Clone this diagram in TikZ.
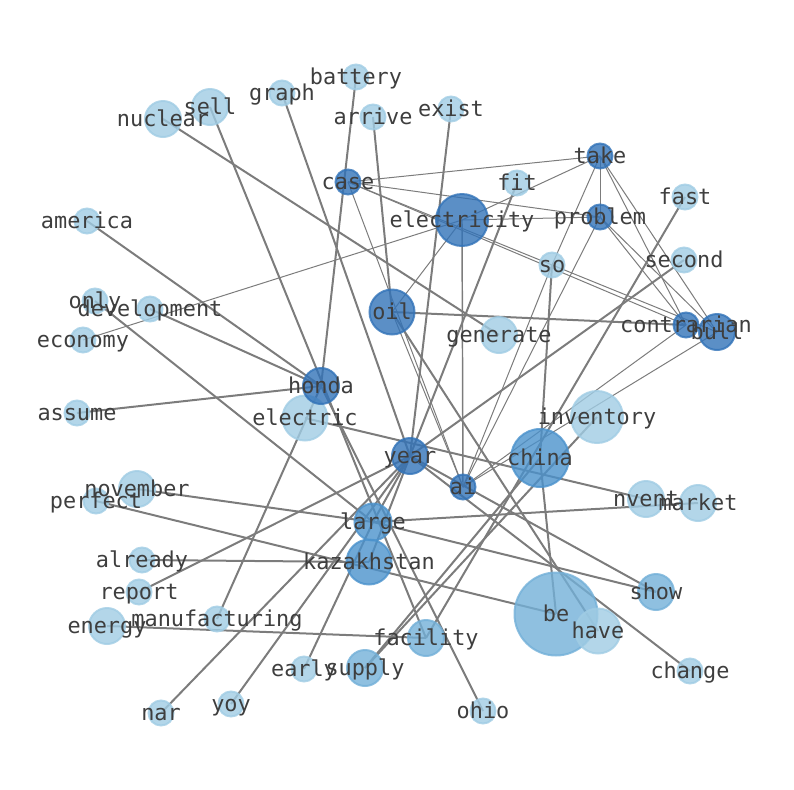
\documentclass[tikz,border=0pt]{standalone}
\usepackage{fontspec}
\setmonofont{DejaVu Sans Mono}
\definecolor{cL}{RGB}{160,204,228}
\definecolor{cM}{RGB}{115,176,216}
\definecolor{cC}{RGB}{75,146,204}
\definecolor{cD}{RGB}{50,115,184}
\definecolor{edgec}{RGB}{124,124,124}
\definecolor{labelc}{RGB}{62,62,62}
\begin{document}
\begin{tikzpicture}[x=0.75pt,y=-0.75pt,
  tk/.style={draw=edgec, line width=1.5pt},
  tm/.style={draw=edgec, line width=1.1pt},
  tn/.style={draw=edgec, line width=0.75pt},
  vtx/.style 2 args={circle, inner sep=0pt, minimum size={(#2)*1.5pt}, fill=#1, draw=#1, fill opacity=0.8, draw opacity=0.8, line width=1.5pt},
  lbl/.style={font=\ttfamily\fontsize{16.4}{20}\selectfont, text=labelc, text height=0.76em, text depth=0.24em, inner sep=0pt, anchor=center, yshift=-2.8pt}
]
\useasboundingbox (0,0) rectangle (794,790);
% centres
\coordinate (battery) at (356,77);
\coordinate (graph) at (282,93);
\coordinate (sell) at (210,107);
\coordinate (nuclear) at (163,119);
\coordinate (arrive) at (373,117);
\coordinate (exist) at (451,109);
\coordinate (case) at (348,182);
\coordinate (fit) at (517,183);
\coordinate (take) at (600,156);
\coordinate (fast) at (685,197);
\coordinate (electricity) at (462,220);
\coordinate (problem) at (600,217);
\coordinate (america) at (87,221);
\coordinate (second) at (684,260);
\coordinate (so) at (552,265);
\coordinate (only) at (95,301);
\coordinate (development) at (150,309);
\coordinate (economy) at (83,340);
\coordinate (oil) at (392,312);
\coordinate (generate) at (499,335);
\coordinate (contrarian) at (686,325);
\coordinate (bull) at (717,332);
\coordinate (honda) at (321,386);
\coordinate (assume) at (77,413);
\coordinate (electric) at (305,418);
\coordinate (inventory) at (597,417);
\coordinate (year) at (410,456);
\coordinate (china) at (540,458);
\coordinate (ai) at (463,487);
\coordinate (november) at (137,489);
\coordinate (perfect) at (96,501);
\coordinate (nvent) at (646,499);
\coordinate (market) at (698,503);
\coordinate (large) at (373,522);
\coordinate (already) at (142,560);
\coordinate (kazakhstan) at (369,562);
\coordinate (report) at (139,592);
\coordinate (manufacturing) at (217,619);
\coordinate (energy) at (107,626);
\coordinate (facility) at (426,638);
\coordinate (be) at (556,614);
\coordinate (have) at (598,631);
\coordinate (show) at (656,592);
\coordinate (change) at (690,671);
\coordinate (early) at (304,669);
\coordinate (supply) at (365,668);
\coordinate (nar) at (161,713);
\coordinate (yoy) at (231,704);
\coordinate (ohio) at (483,711);
% thick edges
\draw[tk] (battery) -- (honda);
\draw[tk] (graph) -- (year);
\draw[tk] (sell) -- (facility);
\draw[tk] (nuclear) -- (generate);
\draw[tk] (arrive) -- (oil);
\draw[tk] (exist) -- (year);
\draw[tk] (fit) -- (year);
\draw[tk] (fast) -- (facility);
\draw[tk] (second) -- (year);
\draw[tk] (america) -- (honda);
\draw[tk] (only) -- (large);
\draw[tk] (development) -- (honda);
\draw[tk] (assume) -- (honda);
\draw[tk] (manufacturing) -- (honda);
\draw[tk] (november) -- (large);
\draw[tk] (perfect) -- (be);
\draw[tk] (already) -- (kazakhstan);
\draw[tk] (report) -- (year);
\draw[tk] (energy) -- (facility);
\draw[tk] (nar) -- (year);
\draw[tk] (yoy) -- (year);
\draw[tk] (early) -- (large);
\draw[tk] (supply) -- (china);
\draw[tk] (supply) -- (inventory);
\draw[tk] (honda) -- (ohio);
\draw[tk] (year) -- (large);
\draw[tk] (year) -- (kazakhstan);
\draw[tk] (year) -- (show);
\draw[tk] (year) -- (change);
\draw[tk] (electric) -- (nvent);
\draw[tk] (large) -- (market);
\draw[tk] (large) -- (show);
\draw[tk] (so) -- (china);
\draw[tk] (china) -- (be);
\draw[tk] (oil) -- (contrarian);
\draw[tk] (oil) -- (have);
% medium / thin edges
\draw[tm] (electricity) -- (ai);
\draw[tn] (case) -- (take);
\draw[tn] (case) -- (problem);
\draw[tn] (case) -- (contrarian);
\draw[tn] (case) -- (bull);
\draw[tn] (case) -- (ai);
\draw[tn] (oil) -- (ai);
\draw[tn] (electricity) -- (take);
\draw[tn] (electricity) -- (problem);
\draw[tn] (electricity) -- (oil);
\draw[tn] (economy) -- (electricity);
\draw[tn] (take) -- (problem);
\draw[tn] (take) -- (so);
\draw[tn] (so) -- (ai);
\draw[tn] (take) -- (contrarian);
\draw[tn] (take) -- (bull);
\draw[tn] (problem) -- (contrarian);
\draw[tn] (problem) -- (bull);
\draw[tn] (problem) -- (ai);
\draw[tn] (ai) -- (contrarian);
\draw[tn] (ai) -- (bull);
% vertex discs
\node[vtx={cL}{12.5}] (v-battery) at (battery) {};
\node[vtx={cL}{12.5}] (v-graph) at (graph) {};
\node[vtx={cL}{18}] (v-sell) at (sell) {};
\node[vtx={cL}{18}] (v-nuclear) at (nuclear) {};
\node[vtx={cL}{12.5}] (v-arrive) at (arrive) {};
\node[vtx={cL}{12.5}] (v-exist) at (exist) {};
\node[vtx={cD}{12.5}] (v-case) at (case) {};
\node[vtx={cL}{12.5}] (v-fit) at (fit) {};
\node[vtx={cD}{12.5}] (v-take) at (take) {};
\node[vtx={cL}{12.5}] (v-fast) at (fast) {};
\node[vtx={cD}{26}] (v-electricity) at (electricity) {};
\node[vtx={cD}{12.5}] (v-problem) at (problem) {};
\node[vtx={cL}{12.5}] (v-america) at (america) {};
\node[vtx={cL}{12.5}] (v-second) at (second) {};
\node[vtx={cL}{12.5}] (v-so) at (so) {};
\node[vtx={cL}{12.5}] (v-only) at (only) {};
\node[vtx={cL}{12.5}] (v-development) at (development) {};
\node[vtx={cL}{12.5}] (v-economy) at (economy) {};
\node[vtx={cD}{22.5}] (v-oil) at (oil) {};
\node[vtx={cL}{18}] (v-generate) at (generate) {};
\node[vtx={cD}{12.5}] (v-contrarian) at (contrarian) {};
\node[vtx={cD}{18}] (v-bull) at (bull) {};
\node[vtx={cL}{12.5}] (v-assume) at (assume) {};
\node[vtx={cL}{22.5}] (v-electric) at (electric) {};
\node[vtx={cD}{18}] (v-honda) at (honda) {};
\node[vtx={cL}{26}] (v-inventory) at (inventory) {};
\node[vtx={cD}{18}] (v-year) at (year) {};
\node[vtx={cC}{29}] (v-china) at (china) {};
\node[vtx={cD}{12.5}] (v-ai) at (ai) {};
\node[vtx={cL}{18}] (v-november) at (november) {};
\node[vtx={cL}{12.5}] (v-perfect) at (perfect) {};
\node[vtx={cL}{18}] (v-nvent) at (nvent) {};
\node[vtx={cL}{18}] (v-market) at (market) {};
\node[vtx={cC}{22.5}] (v-kazakhstan) at (kazakhstan) {};
\node[vtx={cC}{18.5}] (v-large) at (large) {};
\node[vtx={cL}{12.5}] (v-already) at (already) {};
\node[vtx={cL}{12.5}] (v-report) at (report) {};
\node[vtx={cL}{12.5}] (v-manufacturing) at (manufacturing) {};
\node[vtx={cL}{18}] (v-energy) at (energy) {};
\node[vtx={cM}{18}] (v-facility) at (facility) {};
\node[vtx={cM}{41.5}] (v-be) at (be) {};
\node[vtx={cL}{22.5}] (v-have) at (have) {};
\node[vtx={cM}{18}] (v-show) at (show) {};
\node[vtx={cL}{12.5}] (v-change) at (change) {};
\node[vtx={cL}{12.5}] (v-early) at (early) {};
\node[vtx={cM}{18}] (v-supply) at (supply) {};
\node[vtx={cL}{12.5}] (v-nar) at (nar) {};
\node[vtx={cL}{12.5}] (v-yoy) at (yoy) {};
\node[vtx={cL}{12.5}] (v-ohio) at (ohio) {};
% labels
\node[lbl] (t-battery) at (battery) {battery};
\node[lbl] (t-graph) at (graph) {graph};
\node[lbl] (t-sell) at (sell) {sell};
\node[lbl] (t-nuclear) at (nuclear) {nuclear};
\node[lbl] (t-arrive) at (arrive) {arrive};
\node[lbl] (t-exist) at (exist) {exist};
\node[lbl] (t-case) at (case) {case};
\node[lbl] (t-fit) at (fit) {fit};
\node[lbl] (t-take) at (take) {take};
\node[lbl] (t-fast) at (fast) {fast};
\node[lbl] (t-electricity) at (electricity) {electricity};
\node[lbl] (t-problem) at (problem) {problem};
\node[lbl] (t-america) at (america) {america};
\node[lbl] (t-second) at (second) {second};
\node[lbl] (t-so) at (so) {so};
\node[lbl] (t-only) at (only) {only};
\node[lbl] (t-development) at (development) {development};
\node[lbl] (t-economy) at (economy) {economy};
\node[lbl] (t-oil) at (oil) {oil};
\node[lbl] (t-generate) at (generate) {generate};
\node[lbl] (t-contrarian) at (contrarian) {contrarian};
\node[lbl] (t-bull) at (bull) {bull};
\node[lbl] (t-honda) at (honda) {honda};
\node[lbl] (t-assume) at (assume) {assume};
\node[lbl] (t-electric) at (electric) {electric};
\node[lbl] (t-inventory) at (inventory) {inventory};
\node[lbl] (t-year) at (year) {year};
\node[lbl] (t-china) at (china) {china};
\node[lbl] (t-ai) at (ai) {ai};
\node[lbl] (t-november) at (november) {november};
\node[lbl] (t-perfect) at (perfect) {perfect};
\node[lbl] (t-nvent) at (nvent) {nvent};
\node[lbl] (t-market) at (market) {market};
\node[lbl] (t-large) at (large) {large};
\node[lbl] (t-already) at (already) {already};
\node[lbl] (t-kazakhstan) at (kazakhstan) {kazakhstan};
\node[lbl] (t-report) at (report) {report};
\node[lbl] (t-manufacturing) at (manufacturing) {manufacturing};
\node[lbl] (t-energy) at (energy) {energy};
\node[lbl] (t-facility) at (facility) {facility};
\node[lbl] (t-be) at (be) {be};
\node[lbl] (t-have) at (have) {have};
\node[lbl] (t-show) at (show) {show};
\node[lbl] (t-change) at (change) {change};
\node[lbl] (t-early) at (early) {early};
\node[lbl] (t-supply) at (supply) {supply};
\node[lbl] (t-nar) at (nar) {nar};
\node[lbl] (t-yoy) at (yoy) {yoy};
\node[lbl] (t-ohio) at (ohio) {ohio};
\end{tikzpicture}
\end{document}
